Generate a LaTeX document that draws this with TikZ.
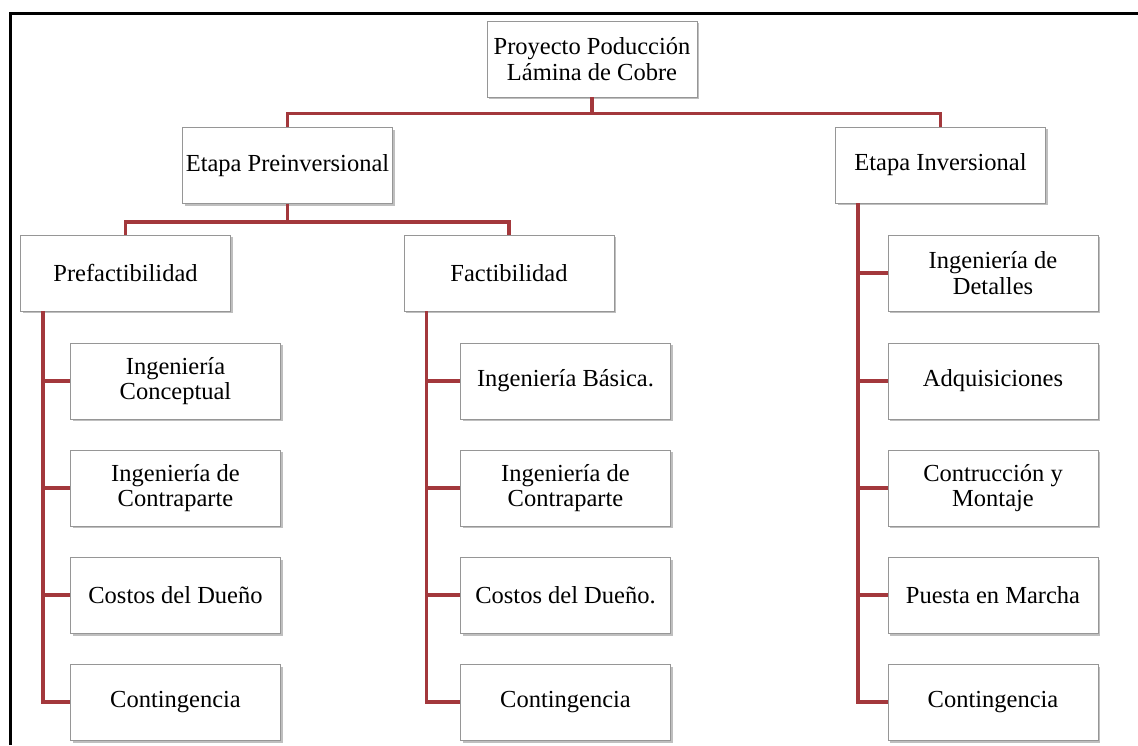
\documentclass[tikz,border=0pt]{standalone}
\usepackage{fontspec}
\setmainfont{Liberation Serif}
\usetikzlibrary{shadows}
\definecolor{connred}{RGB}{163,56,60}
\definecolor{boxgray}{RGB}{150,150,150}
\begin{document}
\begin{tikzpicture}[x=1pt,y=1pt,
  box/.style={draw=boxgray, line width=0.9pt, fill=white,
    minimum width=210pt, minimum height=76pt, inner sep=2pt,
    align=center, font=\fontsize{24.5}{25.5}\selectfont,
    drop shadow={shadow xshift=2pt, shadow yshift=-2.5pt, fill=black!45, opacity=0.55}},
  conn/.style={draw=connred, line width=3.4pt},
  frameline/.style={draw=black, line width=3pt}]
\useasboundingbox (0,0) rectangle (1138,745);
\fill[white] (0,0) rectangle (1138,745);
\draw[frameline] (10,0) -- (10,731) -- (1138,731);

% nodes
\node[box] (root) at (592,686) {Proyecto Poducción\\Lámina de Cobre};
\node[box] (pre) at (287.5,579.5) {Etapa Preinversional};
\node[box] (inv) at (940.5,580) {Etapa Inversional};
\node[box] (pf) at (125.5,472) {Prefactibilidad};
\node[box] (fa) at (509,472) {Factibilidad};

\node[box] (pf1) at (175.5,364) {Ingeniería\\Conceptual};
\node[box] (pf2) at (175.5,257) {Ingeniería de\\Contraparte};
\node[box] (pf3) at (175.5,150) {Costos del Dueño};
\node[box] (pf4) at (175.5,43) {Contingencia};

\node[box] (fa1) at (565.5,364) {Ingeniería Básica.};
\node[box] (fa2) at (565.5,257) {Ingeniería de\\Contraparte};
\node[box] (fa3) at (565.5,150) {Costos del Dueño.};
\node[box] (fa4) at (565.5,43) {Contingencia};

\node[box] (in1) at (993,472) {Ingeniería de\\Detalles};
\node[box] (in2) at (993,364) {Adquisiciones};
\node[box] (in3) at (993,257) {Contrucción y\\Montaje};
\node[box] (in4) at (993,150) {Puesta en Marcha};
\node[box] (in5) at (993,43) {Contingencia};

% connectors
\draw[conn] (root.south) -- ++(0,-16) -| (pre.north);
\draw[conn] (root.south) -- ++(0,-16) -| (inv.north);
\draw[conn] (pre.south) -- ++(0,-18) -| (pf.north);
\draw[conn] (pre.south) -- ++(0,-18) -| (fa.north);

\foreach \c in {pf1,pf2,pf3,pf4}{\draw[conn] ([xshift=23pt]pf.south west) |- (\c.west);}
\foreach \c in {fa1,fa2,fa3,fa4}{\draw[conn] ([xshift=23pt]fa.south west) |- (\c.west);}
\foreach \c in {in1,in2,in3,in4,in5}{\draw[conn] ([xshift=23pt]inv.south west) |- (\c.west);}
\end{tikzpicture}
\end{document}
